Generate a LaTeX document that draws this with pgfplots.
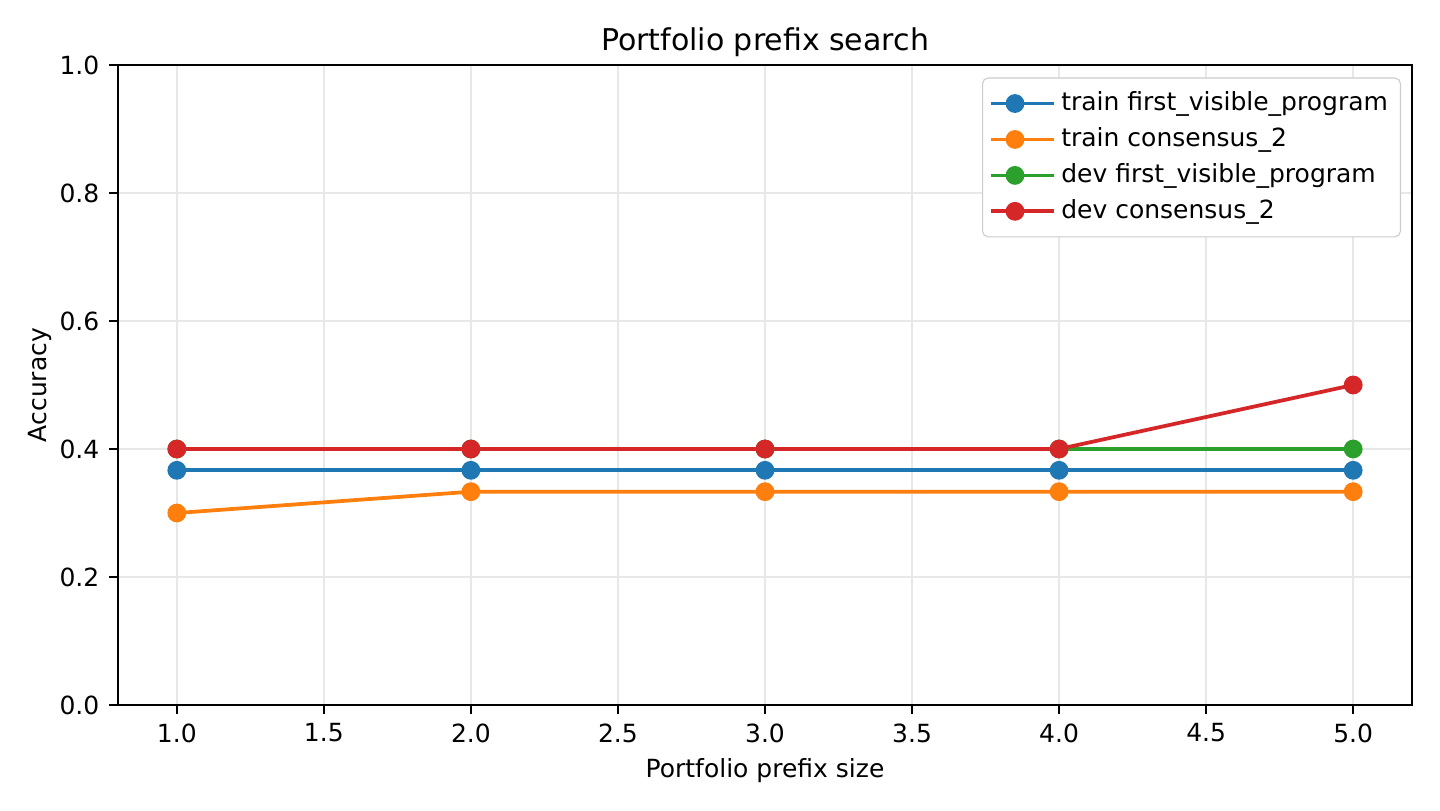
\documentclass[border=0pt]{standalone}
\usepackage{fontspec}
\setmainfont{DejaVu Sans}
\usepackage{pgfplots}
\pgfplotsset{compat=1.18}
\definecolor{c0}{HTML}{1F77B4}
\definecolor{c1}{HTML}{FF7F0E}
\definecolor{c2}{HTML}{2CA02C}
\definecolor{c3}{HTML}{D62728}
\begin{document}
\begin{tikzpicture}
  \path[use as bounding box] (-42.48pt,-37.8pt) rectangle (475.92pt,253.8pt);
  \begin{axis}
    [ at={(0pt,0pt)}, anchor=origin
    , scale only axis
    , width=465.84pt, height=230.4pt
    , xmin=0.8, xmax=5.2, ymin=0, ymax=1
    , xtick={1,1.5,...,5}, ytick={0,0.2,...,1}
    , xticklabel style={/pgf/number format/.cd, fixed, fixed zerofill, precision=1}
    , yticklabel style={/pgf/number format/.cd, fixed, fixed zerofill, precision=1}
    , /pgf/number format/assume math mode=true
    , tick align=outside, tick pos=left
    , major tick length=3.2pt
    , every tick/.style={black, line width=0.7pt}
    , axis line style={line width=0.7pt}
    , grid=major
    , major grid style={line width=0.7pt, black!9}
    , ticklabel style={font=\fontsize{9}{11}\selectfont}
    , title={Portfolio prefix search}
    , title style={font=\fontsize{10.8}{13}\selectfont, yshift=-6.5pt}
    , xlabel={Portfolio prefix size}
    , ylabel={Accuracy}
    , label style={font=\fontsize{9}{11}\selectfont}
    , xlabel style={yshift=1pt}
    , ylabel style={yshift=-4pt}
    , legend style={at={(rel axis cs:1,1)}, xshift=-3.96pt, yshift=-4.5pt,
        anchor=north east, draw=black!20, rounded corners=2pt,
        font=\fontsize{9}{11}\selectfont, row sep=0.6pt,
        inner xsep=2.5pt, inner ysep=3pt}
    , legend cell align=left
    , legend image code/.code={%
        \draw[#1, mark repeat=2, mark phase=2] plot coordinates {(0pt,0pt) (8.5pt,0pt) (17pt,0pt)};
        \path (0pt,0pt) -- (22.5pt,0pt);}
    , every axis plot/.append style={line width=1.35pt, mark=*, mark size=2.7pt}
    ]
    \addplot[c0, mark options={fill=c0, draw=c0}] coordinates {(1,0.3667) (2,0.3667) (3,0.3667) (4,0.3667) (5,0.3667)};
    \addplot[c1, mark options={fill=c1, draw=c1}] coordinates {(1,0.3) (2,0.3333) (3,0.3333) (4,0.3333) (5,0.3333)};
    \addplot[c2, mark options={fill=c2, draw=c2}] coordinates {(1,0.4) (2,0.4) (3,0.4) (4,0.4) (5,0.4)};
    \addplot[c3, mark options={fill=c3, draw=c3}] coordinates {(1,0.4) (2,0.4) (3,0.4) (4,0.4) (5,0.5)};
    \legend{train first\_visible\_program, train consensus\_2, dev first\_visible\_program, dev consensus\_2}
  \end{axis}
\end{tikzpicture}
\end{document}
